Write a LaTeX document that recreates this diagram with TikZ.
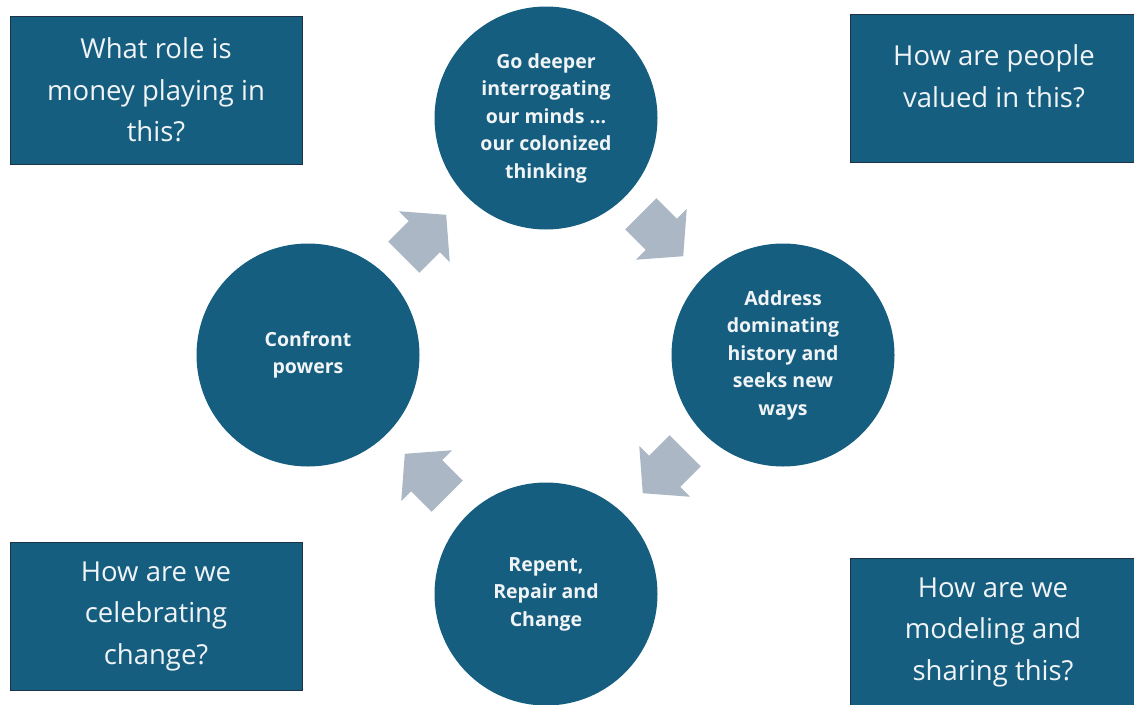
\documentclass[tikz,border=0pt]{standalone}
\usepackage{fontspec}
\setmainfont{Open Sans}
\definecolor{teal}{RGB}{22,94,127}
\definecolor{edge}{RGB}{30,52,70}
\definecolor{arrowgray}{RGB}{171,183,196}
\definecolor{txt}{RGB}{240,244,246}
\tikzset{
  qbox/.style={draw=edge, line width=1pt, fill=teal, text=txt, align=center,
    font=\fontsize{27.5}{41.5}\selectfont, inner sep=0pt},
  circ/.style={circle, fill=teal, text=txt, align=center, minimum size=223pt,
    inner sep=0pt, font=\fontsize{19.5}{27.5}\selectfont\bfseries},
  blockarrow/.style={fill=arrowgray}
}
\newcommand{\blockarr}[3]{%
  \fill[blockarrow, shift={(#1,#2)}, rotate=#3]
    (-30,-22) -- (-1,-22) -- (-1,-36) -- (30,0) -- (-1,36) -- (-1,22) -- (-30,22) -- cycle;}
\begin{document}
\begin{tikzpicture}[x=1pt,y=-1pt]
\useasboundingbox (0,0) rectangle (1134,704);
% question boxes
\node[qbox, minimum width=292pt, minimum height=148pt] (tl) at (156,90)
  {What role is\\money playing in\\this?};
\node[qbox, minimum width=286pt, minimum height=148pt] (tr) at (993,88) {};
\node[text=txt, align=center, font=\fontsize{27.5}{41.5}\selectfont] (trt) at (994,76)
  {How are people\\valued in this?};
\node[qbox, minimum width=292pt, minimum height=148pt] (bl) at (156,616)
  {How are we\\celebrating\\change?};
\node[qbox, minimum width=286pt, minimum height=148pt] (br) at (993,632)
  {How are we\\modeling and\\sharing this?};
% cycle circles
\node[circ] (top) at (546,118)
  {Go deeper\\interrogating\\our minds ...\\our colonized\\thinking};
\node[circ] (right) at (783,355)
  {Address\\dominating\\history and\\seeks new\\ways};
\node[circ] (bottom) at (546,594)
  {Repent,\\Repair and\\Change};
\node[circ] (left) at (308,355)
  {Confront\\powers};
% block arrows
\blockarr{425}{236}{45}
\blockarr{662}{235}{-45}
\blockarr{664}{472}{-135}
\blockarr{426}{475}{135}
\end{tikzpicture}
\end{document}
